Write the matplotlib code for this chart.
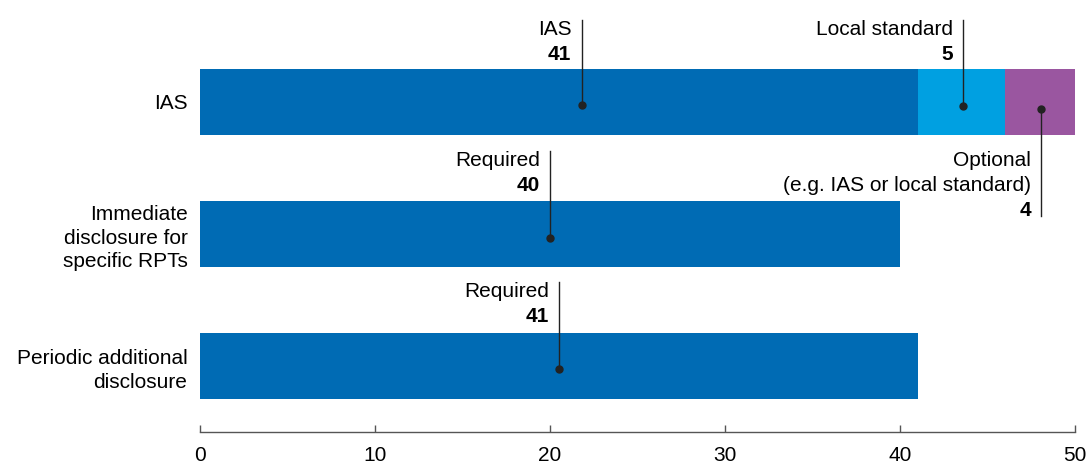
import matplotlib.pyplot as plt

plt.rcParams['font.family'] = ['Liberation Sans', 'DejaVu Sans']
plt.rcParams['font.size'] = 15

categories = ["IAS", "Immediate\ndisclosure for\nspecific RPTs", "Periodic additional\ndisclosure"]
ias_vals = [41, 40, 41]
local_vals = [5, 0, 0]
optional_vals = [4, 0, 0]

# callouts: (dot x, row, dot offset, line end offset, label lines, value, text below?)
callouts = [
    (21.8, 0, 0.02, -0.62, ["IAS"], 41, False),
    (43.6, 0, 0.03, -0.62, ["Local standard"], 5, False),
    (48.05, 0, 0.05, 0.86, ["Optional", "(e.g. IAS or local standard)"], 4, True),
    (20.0, 1, 0.03, -0.63, ["Required"], 40, False),
    (20.5, 2, 0.02, -0.64, ["Required"], 41, False),
]

c_ias = "#006bb4"
c_local = "#00a0e1"
c_opt = "#9a56a0"

fig = plt.figure(figsize=(10.9, 4.67), dpi=100)
ax = fig.add_axes([200 / 1090, 1 - 432 / 467, 875 / 1090, 429 / 467])

y = list(range(len(categories)))
h = 0.5
ax.barh(y, ias_vals, height=h, color=c_ias, zorder=2)
left2 = ias_vals
ax.barh(y, local_vals, left=left2, height=h, color=c_local, zorder=2)
left3 = [a + b for a, b in zip(ias_vals, local_vals)]
ax.barh(y, optional_vals, left=left3, height=h, color=c_opt, zorder=2)

ax.set_ylim(2.5, -0.75)
ax.set_xlim(0, 50)
ax.set_yticks(y)
ax.set_yticklabels(categories, ha="right", linespacing=1.3)
ax.tick_params(axis="y", length=0, pad=9)
ax.set_xticks([0, 10, 20, 30, 40, 50])
ax.tick_params(axis="x", direction="in", length=5, width=1, color="#555555", pad=10)
for s in ["top", "right", "left"]:
    ax.spines[s].set_visible(False)
ax.spines["bottom"].set_color("#555555")
ax.spines["bottom"].set_linewidth(1)

px = 0.72  # points per pixel at 100 dpi
for x, row, dy, ly, labels, val, below in callouts:
    yd = row + dy
    ye = row + ly
    ax.plot([x, x], [yd, ye], color="#222222", lw=1, zorder=3, clip_on=False)
    ax.plot([x], [yd], "o", color="#222222", ms=5, zorder=4, clip_on=False)
    lines = labels + [str(val)]
    n = len(lines)
    for i, t in enumerate(lines):
        if below:
            off = 25 * (n - 1 - i)
        else:
            off = -(15 + 25 * i)
        ax.annotate(t, (x, ye), xytext=(-10 * px, off * px),
                    textcoords="offset points", ha="right", va="baseline",
                    fontweight="bold" if i == n - 1 else "normal",
                    annotation_clip=False)

fig.savefig("out.png", dpi=100)
